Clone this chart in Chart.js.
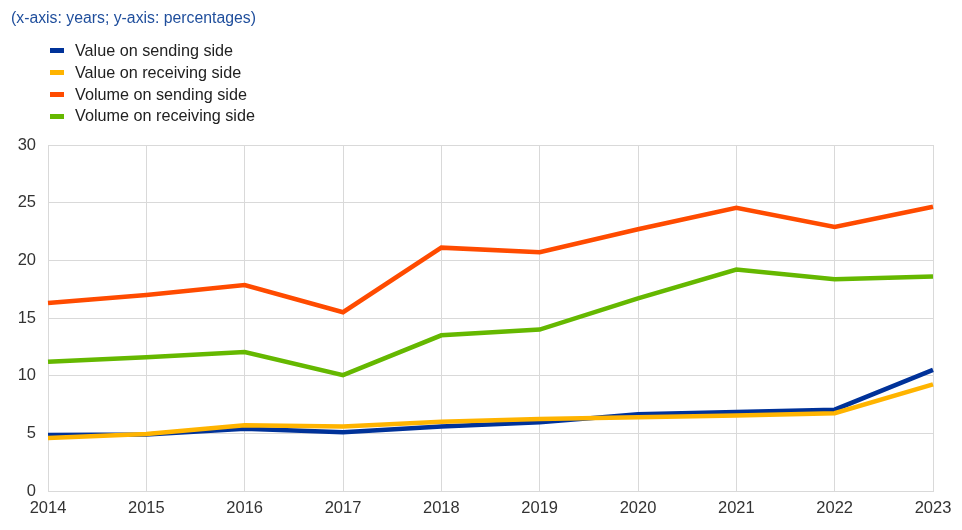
<!DOCTYPE html>
<html>
<head>
<meta charset="utf-8">
<script src="https://cdn.jsdelivr.net/npm/chart.js@4"></script>
<style>
  body { margin: 0; background: #fff; font-family: Arial, "Liberation Sans", sans-serif; }
  #wrap { position: relative; width: 962px; height: 530px; }
  #note { position: absolute; left: 11px; top: 9px; font-size: 15.8px; color: #1f4e9c; }
  #legend { position: absolute; left: 50px; top: 40px; font-size: 16.2px; color: #222; }
  #legend div { height: 21.8px; line-height: 21px; }
  #legend span.key { display: inline-block; width: 14px; height: 5px; vertical-align: middle; margin-right: 11px; position: relative; top: -1px; }
  canvas { position: absolute; left: 0; top: 0; }
</style>
</head>
<body>
<div id="wrap">
  <canvas id="lineChart" width="962" height="530"></canvas>
  <div id="note">(x-axis: years; y-axis: percentages)</div>
  <div id="legend"></div>
</div>
<script>
// 資料
const years = ['2014', '2015', '2016', '2017', '2018', '2019', '2020', '2021', '2022', '2023'];
const valueSending = [4.85, 4.9, 5.4, 5.1, 5.6, 5.95, 6.65, 6.85, 7.05, 10.5];
const valueReceiving = [4.6, 4.95, 5.7, 5.6, 6.0, 6.25, 6.4, 6.55, 6.75, 9.25];
const volumeSending = [16.3, 17.0, 17.85, 15.5, 21.1, 20.7, 22.7, 24.55, 22.9, 24.65];
const volumeReceiving = [11.2, 11.6, 12.05, 10.05, 13.5, 14.0, 16.7, 19.2, 18.35, 18.6];

const series = [
    { label: 'Value on sending side', data: valueSending, color: '#003299', order: 4 },
    { label: 'Value on receiving side', data: valueReceiving, color: '#ffb400', order: 3 },
    { label: 'Volume on sending side', data: volumeSending, color: '#ff4b00', order: 2 },
    { label: 'Volume on receiving side', data: volumeReceiving, color: '#65b800', order: 1 }
];

// 圖例
const legend = document.getElementById('legend');
series.forEach(s => {
    const row = document.createElement('div');
    row.innerHTML = '<span class="key" style="background:' + s.color + '"></span>' + s.label;
    legend.appendChild(row);
});

// 折線圖
const ctx = document.getElementById('lineChart');
new Chart(ctx, {
    type: 'line',
    data: {
        labels: years,
        datasets: series.map(s => ({
            label: s.label,
            data: s.data,
            borderColor: s.color,
            backgroundColor: s.color,
            borderWidth: 4.5,
            pointRadius: 0,
            tension: 0,
            fill: false,
            order: s.order
        }))
    },
    options: {
        responsive: false,
        animation: false,
        layout: { padding: { top: 145, right: 29, left: 0, bottom: 0 } },
        plugins: {
            legend: { display: false },
            tooltip: { enabled: false }
        },
        scales: {
            x: {
                grid: { color: '#d9d9d9', lineWidth: 1, drawTicks: false },
                border: { color: '#d9d9d9' },
                ticks: { color: '#333', font: { size: 16.5, family: 'Arial' }, padding: 8, maxRotation: 0 },
                afterFit: s => { s.height = 39; }
            },
            y: {
                min: 0,
                max: 30,
                grid: { color: '#d9d9d9', lineWidth: 1, drawTicks: false },
                border: { color: '#d9d9d9' },
                ticks: { stepSize: 5, color: '#333', font: { size: 16.5, family: 'Arial' }, padding: 12 },
                afterFit: s => { s.width = 48; }
            }
        }
    }
});
</script>
</body>
</html>
